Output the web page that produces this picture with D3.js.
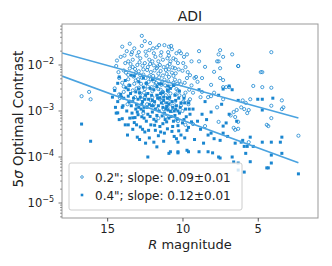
<!DOCTYPE html>
<html>
<head>
<meta charset="utf-8">
<script src="https://cdn.jsdelivr.net/npm/d3@7"></script>
<style>
  body { margin: 0; background: white; }
  text { font-family: "DejaVu Sans", Verdana, sans-serif; fill: #222; }
</style>
</head>
<body>
<svg id="canvas" width="332" height="266"></svg>
<script>
// ---------------------------------------------------------------- //
// Data: [R magnitude, 5 sigma contrast]

var title = 'ADI';
var series_names = ['0.2"; slope: 0.09\u00b10.01', '0.4"; slope: 0.12\u00b10.01'];
var x_ticks = [15, 10, 5];
var y_ticks = [-2, -3, -4, -5];

// fit lines, log10(contrast) = intercept + slope * mag
var fit_slopes = [0.09, 0.12];
var fit_intercepts = [-3.36, -4.40];
var fit_range = [18, 2.3];

var open_pts = [
  [14.4,9.5e-3],[14.2,5.2e-3],[14.5,3.1e-3],[14.1,1.5e-2],[13.9,7.6e-3],[14.0,4.1e-3],[14.2,2.3e-3],[13.7,2.0e-2],
  [13.8,1.1e-2],[13.6,6.1e-3],[13.9,3.4e-3],[13.4,1.7e-2],[13.5,8.4e-3],[13.6,4.9e-3],[13.3,2.8e-3],[13.5,1.6e-3],
  [13.2,2.3e-2],[13.3,1.3e-2],[13.1,6.7e-3],[13.2,3.9e-3],[12.9,1.9e-2],[13.0,1.0e-2],[12.9,7.3e-3],[13.1,4.6e-3],
  [12.8,2.4e-3],[13.0,1.3e-3],[12.7,2.6e-2],[12.8,1.4e-2],[12.6,8.0e-3],[12.7,5.3e-3],[12.9,3.2e-3],[12.4,1.6e-2],
  [12.5,1.1e-2],[12.6,6.2e-3],[12.4,4.0e-3],[12.5,2.0e-3],[12.6,9.0e-4],[12.2,2.1e-2],[12.3,9.0e-3],[12.2,5.7e-3],
  [12.3,3.4e-3],[12.1,1.7e-3],[11.9,1.8e-2],[12.0,1.2e-2],[12.1,7.0e-3],[11.9,4.4e-3],[12.0,2.7e-3],[11.9,1.4e-3],
  [11.7,2.4e-2],[11.8,1.5e-2],[11.7,8.6e-3],[11.8,5.0e-3],[11.6,3.0e-3],[11.7,1.1e-3],[11.4,1.9e-2],[11.5,1.0e-2],
  [11.6,6.5e-3],[11.4,3.7e-3],[11.5,2.2e-3],[11.3,1.5e-3],[11.2,2.7e-2],[11.3,1.3e-2],[11.1,7.8e-3],[11.2,4.8e-3],
  [11.3,2.6e-3],[11.1,7.5e-4],[10.9,1.6e-2],[11.0,9.5e-3],[10.9,5.5e-3],[11.0,3.3e-3],[10.9,1.9e-3],[11.0,1.2e-3],
  [10.7,2.2e-2],[10.8,1.2e-2],[10.7,6.8e-3],[10.6,4.1e-3],[10.8,2.4e-3],[10.7,1.0e-3],[10.4,1.8e-2],[10.5,8.5e-3],
  [10.6,5.8e-3],[10.4,3.0e-3],[10.5,1.6e-3],[10.4,6.5e-4],[10.2,2.0e-2],[10.3,1.1e-2],[10.2,4.5e-3],[10.3,2.8e-3],
  [10.1,1.3e-3],[9.9,1.5e-2],[10.0,7.5e-3],[10.1,3.8e-3],[9.9,2.1e-3],[10.0,1.0e-3],[9.7,1.7e-2],[9.8,9.0e-3],
  [9.7,5.2e-3],[9.8,2.5e-3],[9.6,1.4e-3],[9.4,1.2e-2],[9.5,6.0e-3],[9.4,3.6e-3],[9.5,1.8e-3],
  [13.6,1.2e-2],[13.0,1.6e-2],[12.2,1.3e-2],[11.6,1.2e-2],[11.0,1.4e-2],[10.6,1.4e-2],[12.8,6.0e-3],[12.1,4.9e-3],
  [11.3,5.9e-3],[10.5,4.8e-3],[13.3,9.0e-3],[11.9,9.8e-3],[10.9,8.0e-3],[12.5,3.0e-3],[11.8,3.6e-3],[11.1,2.2e-3],
  [10.2,2.2e-3],[13.9,2.6e-3],[12.7,1.8e-3],[12.0,2.0e-3],[11.5,1.8e-3],[10.8,1.6e-3],
  [13.45,1.05e-2],[13.15,8.2e-3],[12.85,1.15e-2],[12.65,9.6e-3],[12.35,7.8e-3],[12.15,1.05e-2],[11.85,7.6e-3],[11.65,9.3e-3],
  [11.45,7.4e-3],[11.25,9.0e-3],[11.05,6.4e-3],[10.85,1.05e-2],[10.65,8.8e-3],[10.45,6.6e-3],[10.25,8.0e-3],[13.25,5.6e-3],
  [12.95,4.9e-3],[12.75,3.9e-3],[12.45,5.2e-3],[12.25,4.3e-3],[11.95,5.8e-3],[11.75,4.1e-3],[11.55,5.4e-3],[11.35,4.2e-3],
  [11.15,3.6e-3],[10.95,4.4e-3],[10.75,3.4e-3],[10.55,3.7e-3],[10.35,3.9e-3],[13.55,3.6e-3],[13.05,3.1e-3],[12.55,2.5e-3],
  [12.05,3.3e-3],[11.45,2.9e-3],[10.95,2.7e-3],[10.45,2.3e-3],[13.75,6.8e-3],[13.85,1.6e-2],[13.35,1.9e-2],[12.45,1.95e-2],
  [11.95,2.3e-2],[11.45,1.6e-2],[10.95,1.9e-2],[10.45,1.3e-2],[9.95,1.1e-2],[14.25,7.0e-3],[14.35,1.25e-2],[12.15,3.0e-2],
  [11.55,2.7e-2],[10.75,2.6e-2],[9.65,7.0e-3],[9.85,4.1e-3],[9.55,2.9e-3],[13.15,2.0e-3],[12.35,1.4e-3],[11.25,1.1e-3],
  [10.65,1.3e-3],[9.95,1.6e-3],[13.65,1.4e-3],[14.15,1.9e-3],
  [12.7,4.3e-2],[12.5,3.3e-2],[14.0,2.5e-2],[13.5,2.9e-2],[10.9,2.5e-2],[10.1,1.8e-2],[8.9,2.0e-2],[7.5,2.1e-2],
  [6.7,1.7e-2],[4.1,1.9e-2],[7.7,1.2e-2],[6.3,9.5e-3],[7.5,8.5e-3],[8.9,1.2e-2],[4.8,7.0e-3],[5.3,3.5e-3],
  [4.1,3.2e-3],[3.4,1.7e-3],[3.3,1.2e-3],[4.3,4.7e-4],[2.3,2.9e-4],[5.8,1.5e-3],[6.4,1.05e-3],[6.1,1.2e-3],
  [5.7,9.0e-4],[6.8,8.0e-4],[6.6,4.3e-4],[6.3,4.1e-4],[6.9,3.3e-3],[7.3,3.3e-3],[7.9,2.5e-3],[8.3,2.0e-3],
  [8.8,2.0e-3],[9.3,2.5e-3],[9.6,1.6e-3],[9.0,4.3e-3],[8.7,5.2e-3],[9.2,5.2e-3],[7.5,5.2e-3],[7.3,4.7e-3],
  [7.7,1.2e-3],[16.7,2.1e-3],[16.2,2.6e-3],[16.1,1.8e-3],[4.7,7.0e-3],[4.7,3.3e-3],[5.5,1.8e-3],[4.1,1.3e-3],
  [3.4,1.1e-3],[4.1,7.0e-4],[4.4,5.0e-4],[7.6,1.7e-2],[7.3,1.5e-2],[7.6,1.2e-2],[8.5,9.1e-3],[6.3,9.5e-3],
  [7.9,7.1e-3],[9.1,5.5e-3],[8.1,3.7e-3],[7.1,3.3e-3],[8.7,2.6e-3],[8.1,2.1e-3],[7.3,1.8e-3],[6.0,1.7e-3],
  [5.9,1.1e-3],[5.6,1.05e-3],[6.6,9.5e-4],[6.5,7.4e-4],[6.3,5.8e-4],[6.5,3.9e-4],[7.6,5.8e-4],[8.5,4.7e-4],
  [9.3,5.2e-4],[5.6,2.1e-4],[10.3,6.0e-4],[11.6,7.0e-4],[9.8,5.0e-4]
];

var filled_pts = [
  [14.5,2.8e-3],[14.3,1.6e-3],[14.4,9.0e-4],[14.2,5.5e-3],[14.1,2.3e-3],[14.0,1.2e-3],[14.2,6.5e-4],[13.8,4.6e-3],
  [13.9,1.9e-3],[13.7,1.0e-3],[13.8,5.0e-4],[13.5,3.6e-3],[13.6,2.1e-3],[13.4,1.3e-3],[13.5,7.0e-4],[13.3,4.0e-4],
  [13.2,5.8e-3],[13.1,2.6e-3],[13.3,1.6e-3],[13.0,9.5e-4],[13.2,5.6e-4],[13.0,2.7e-4],[12.9,4.3e-3],[12.8,2.0e-3],
  [12.9,1.2e-3],[12.7,7.5e-4],[12.8,4.5e-4],[12.6,3.3e-3],[12.5,1.8e-3],[12.6,1.0e-3],[12.4,6.0e-4],[12.5,3.5e-4],
  [12.3,1.0e-4],[12.3,2.4e-3],[12.2,1.4e-3],[12.3,8.5e-4],[12.1,5.0e-4],[12.2,2.6e-4],[12.0,4.8e-3],[11.9,2.9e-3],
  [12.0,1.7e-3],[11.8,1.1e-3],[11.9,6.6e-4],[11.8,3.8e-4],[11.9,2.1e-4],[11.7,2.2e-3],[11.6,1.3e-3],[11.7,8.0e-4],
  [11.5,4.6e-4],[11.6,2.9e-4],[11.4,3.9e-3],[11.3,2.5e-3],[11.4,1.5e-3],[11.2,9.0e-4],[11.3,5.3e-4],[11.2,3.3e-4],
  [11.0,1.9e-3],[11.1,1.1e-3],[10.9,7.0e-4],[11.0,4.1e-4],[10.9,1.2e-4],[10.8,3.1e-3],[10.7,1.6e-3],[10.8,9.8e-4],
  [10.6,6.0e-4],[10.7,3.6e-4],[10.8,1.3e-4],[10.5,2.2e-3],[10.4,1.3e-3],[10.5,8.0e-4],[10.3,4.8e-4],[10.4,2.5e-4],
  [10.3,1.3e-4],[10.3,2.1e-4],[10.2,2.7e-3],[10.1,1.5e-3],[10.2,9.0e-4],[10.0,5.5e-4],[10.1,3.0e-4],[9.9,1.9e-3],
  [9.8,1.1e-3],[9.9,6.5e-4],[9.7,3.8e-4],[9.7,1.4e-4],[9.6,1.5e-3],[9.5,8.5e-4],[9.6,4.4e-4],[9.3,1.1e-3],
  [9.4,5.8e-4],[13.6,2.9e-3],[12.9,3.0e-3],[12.4,4.0e-3],[11.7,3.4e-3],[11.0,2.8e-3],[10.6,3.6e-3],[13.1,1.1e-3],
  [12.0,9.5e-4],[11.3,1.2e-3],[10.3,1.0e-3],[12.7,1.4e-3],[11.5,1.9e-3],[10.9,1.4e-3],[14.3,4.0e-3],[13.4,6.0e-3],
  [12.6,5.2e-3],
  [13.45,2.4e-3],[13.25,1.9e-3],[13.05,1.4e-3],[12.85,2.5e-3],[12.65,1.6e-3],[12.45,2.2e-3],[12.25,1.8e-3],[12.05,2.2e-3],
  [11.85,1.6e-3],[11.65,1.9e-3],[11.45,2.4e-3],[11.25,1.7e-3],[11.05,1.5e-3],[10.85,2.0e-3],[10.65,1.2e-3],[10.45,1.7e-3],
  [10.25,1.9e-3],[13.35,9.0e-4],[13.15,7.2e-4],[12.95,8.3e-4],[12.75,1.1e-3],[12.55,7.0e-4],[12.35,1.2e-3],[12.15,7.6e-4],
  [11.95,1.3e-3],[11.75,6.0e-4],[11.55,1.0e-3],[11.35,7.8e-4],[11.15,6.5e-4],[10.95,1.05e-3],[10.75,7.6e-4],[10.55,1.0e-3],
  [10.35,6.8e-4],[10.15,1.2e-3],[13.05,5.0e-4],[12.65,4.0e-4],[12.25,3.8e-4],[11.85,4.9e-4],[11.45,3.5e-4],[11.05,5.8e-4],
  [10.65,4.6e-4],[10.25,3.7e-4],[13.65,3.0e-4],[12.85,2.4e-4],[12.45,2.0e-4],[11.25,2.2e-4],[10.55,2.8e-4],[9.85,2.6e-4],
  [12.15,3.1e-3],[11.55,3.9e-3],[10.95,3.5e-3],[13.75,3.2e-3],[14.05,2.0e-3],[13.95,1.3e-3],[9.75,7.5e-4],[9.55,1.1e-3],
  [9.85,1.5e-3],[13.55,1.6e-3],[12.55,1.2e-3],[11.05,1.25e-3],[12.95,1.8e-3],[12.05,1.3e-3],[11.25,2.0e-3],[10.45,1.1e-3],
  [14.45,1.2e-3],[14.65,2.0e-3],
  [16.7,5.2e-4],[16.1,2.2e-4],[14.3,9.1e-4],[14.0,6.8e-4],[13.6,5.0e-4],[13.3,7.1e-4],[11.7,1.66e-4],
  [10.3,1.23e-4],[9.6,1.3e-4],[8.6,2.0e-4],[8.0,1.23e-4],[7.5,9.5e-5],[6.3,7.4e-5],[6.3,5.2e-5],[5.9,4.7e-5],
  [5.5,7.9e-5],[4.3,5.8e-5],[4.1,7.4e-5],[2.3,4.3e-5],[3.5,2.1e-4],[4.1,2.1e-4],[5.7,1.7e-4],[6.9,3.5e-3],
  [6.7,2.9e-3],[7.6,2.2e-3],[8.5,1.6e-3],[7.4,1.4e-3],[6.3,1.7e-3],[8.1,9.5e-4],[8.7,8.5e-4],[6.9,8.5e-4],
  [7.3,4.7e-4],[7.3,3.3e-4],[8.1,3.3e-4],[8.9,1.3e-4],[8.3,1.3e-4],[7.6,1.0e-4],[6.7,1.0e-4],[6.6,7.8e-5],
  [6.1,2.1e-4],[5.9,1.7e-4],[7.3,3.0e-3],[8.9,2.9e-3],[4.0,1.9e-3],[5.0,1.8e-3],[4.7,1.8e-3],[4.7,1.05e-3],
  [3.4,2.7e-4],[4.7,2.1e-4],[5.5,2.7e-4],[5.3,1.7e-4],[4.1,1.1e-4],[3.4,1.2e-4],[4.4,5.8e-5],[7.5,2.3e-4],
  [8.3,3.0e-4],[7.9,2.5e-4],[7.0,2.8e-4],[6.5,2.0e-4],[6.0,2.3e-4],[5.8,1.2e-4],[8.8,4.0e-4],[7.1,5.5e-4],
  [6.4,6.0e-4],[9.0,6.0e-4],[9.2,2.4e-4],[8.4,6.5e-4]
];

// ---------------------------------------------------------------- //
// Layout

var margin = { left: 62, right: 14, top: 24, bottom: 48 };
var width = 332, height = 266;
var point_color = '#1a86d0';
var line_color = '#4aa3e0';

var svg = d3.select('#canvas');

var x = d3.scaleLinear().domain([18, 1]).range([margin.left, width - margin.right]);
var y = d3.scaleLog().domain([Math.pow(10, -5.326), Math.pow(10, -1.109)]).range([height - margin.bottom, margin.top]);

svg.append('clipPath').attr('id', 'clip')
  .append('rect')
  .attr('x', margin.left).attr('y', margin.top)
  .attr('width', x.range()[1] - x.range()[0]).attr('height', y.range()[0] - y.range()[1]);

var plot_g = svg.append('g').attr('clip-path', 'url(#clip)');

// open circles (0.2")
plot_g.selectAll('circle.open').data(open_pts).enter().append('circle')
  .attr('class', 'open')
  .attr('cx', function(d){ return x(d[0]); })
  .attr('cy', function(d){ return y(d[1]); })
  .attr('r', 1.6)
  .style('fill', 'none')
  .style('stroke', point_color)
  .style('stroke-width', 0.8);

// filled squares (0.4")
var sq = 3;
plot_g.selectAll('rect.filled').data(filled_pts).enter().append('rect')
  .attr('class', 'filled')
  .attr('x', function(d){ return x(d[0]) - sq/2; })
  .attr('y', function(d){ return y(d[1]) - sq/2; })
  .attr('width', sq).attr('height', sq)
  .style('fill', point_color);

// fit lines
fit_slopes.forEach(function(s, i){
  var ends = fit_range.map(function(m){ return [m, Math.pow(10, fit_intercepts[i] + s*m)]; });
  plot_g.append('path')
    .datum(ends)
    .attr('d', d3.line().x(function(d){ return x(d[0]); }).y(function(d){ return y(d[1]); }))
    .style('fill', 'none')
    .style('stroke', line_color)
    .style('stroke-width', 1.6);
});

// ---------------------------------------------------------------- //
// Axes

var x0 = x.range()[0], x1 = x.range()[1], y0 = y.range()[0], y1 = y.range()[1];

svg.append('rect')
  .attr('x', x0).attr('y', y1).attr('width', x1 - x0).attr('height', y0 - y1)
  .style('fill', 'none').style('stroke', '#999').style('stroke-width', 1);

var x_axis = svg.append('g').attr('transform', 'translate(0,' + y0 + ')')
  .call(d3.axisBottom(x).tickValues(x_ticks).tickSize(3.5).tickPadding(3).tickFormat(d3.format('d')));
x_axis.select('.domain').remove();
x_axis.selectAll('line').style('stroke', '#555');
x_axis.selectAll('text').style('font-size', '11.5px').style('font-family', '"DejaVu Sans", sans-serif').style('fill', '#222');

// y minor ticks
var minor = [];
for(var e = -6; e <= -1; e++){
  for(var k = 2; k <= 9; k++){
    var v = k * Math.pow(10, e);
    if(v > y.domain()[0] && v < y.domain()[1]) minor.push(v);
  }
}
svg.append('g').selectAll('line').data(minor).enter().append('line')
  .attr('x1', x0 - 2).attr('x2', x0)
  .attr('y1', function(d){ return y(d); }).attr('y2', function(d){ return y(d); })
  .style('stroke', '#555').style('stroke-width', 0.6);

var y_g = svg.append('g');
y_ticks.forEach(function(p){
  var yy = y(Math.pow(10, p));
  y_g.append('line').attr('x1', x0 - 3.5).attr('x2', x0).attr('y1', yy).attr('y2', yy)
    .style('stroke', '#555').style('stroke-width', 0.8);
  var t = y_g.append('text').attr('x', x0 - 8).attr('y', yy + 4)
    .attr('text-anchor', 'end').style('font-size', '11.5px');
  t.append('tspan').text('10');
  t.append('tspan').attr('dy', -5).style('font-size', '8px').text('\u2212' + Math.abs(p));
});

// ---------------------------------------------------------------- //
// Labels

svg.append('text').attr('x', (x0 + x1)/2).attr('y', 21)
  .attr('text-anchor', 'middle').style('font-size', '14px').text(title);

var xl = svg.append('text').attr('x', (x0 + x1)/2).attr('y', 249)
  .attr('text-anchor', 'middle').style('font-size', '13px');
xl.append('tspan').style('font-style', 'italic').text('R');
xl.append('tspan').text(' magnitude');

var yl = svg.append('text')
  .attr('transform', 'translate(23,' + ((y0 + y1)/2 - 2) + ') rotate(-90)')
  .attr('text-anchor', 'middle').style('font-size', '13.5px');
yl.append('tspan').text('5');
yl.append('tspan').style('font-style', 'italic').text('\u03c3');
yl.append('tspan').text(' Optimal Contrast');

// ---------------------------------------------------------------- //
// Legend

var leg = svg.append('g').attr('transform', 'translate(69,163)');
leg.append('rect').attr('width', 173).attr('height', 47).attr('rx', 2)
  .style('fill', 'white').style('fill-opacity', 0.8)
  .style('stroke', '#ccc').style('stroke-width', 1);

leg.append('circle').attr('cx', 13).attr('cy', 14).attr('r', 1.3)
  .style('fill', 'none').style('stroke', point_color).style('stroke-width', 0.8);
leg.append('rect').attr('x', 13 - 1.3).attr('y', 32 - 1.3).attr('width', 2.6).attr('height', 2.6)
  .style('fill', point_color);

series_names.forEach(function(name, i){
  leg.append('text').attr('x', 26).attr('y', 18.5 + i*18)
    .style('font-size', '12px').text(name);
});
</script>
</body>
</html>
